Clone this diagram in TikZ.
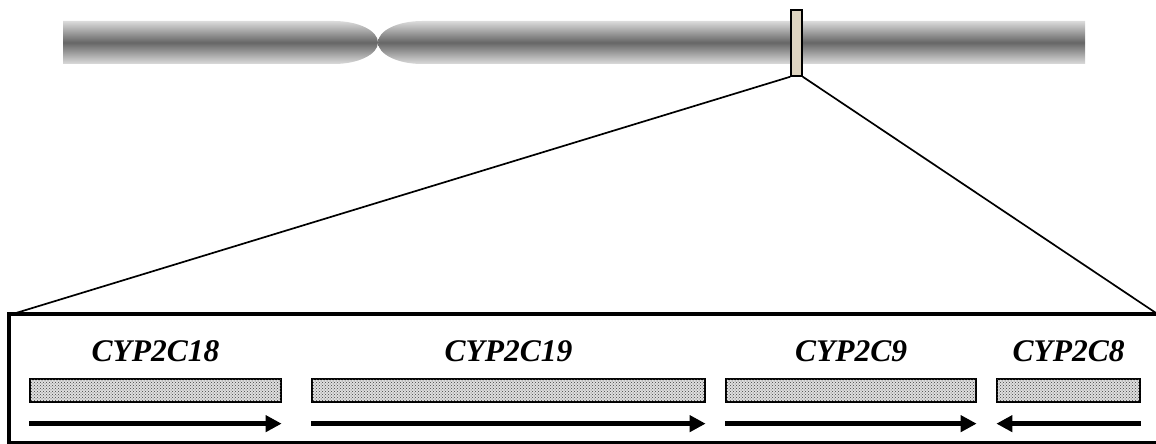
\documentclass[tikz,border=0pt]{standalone}
\usepackage{fontspec}
\setmainfont{Liberation Serif}
\usepackage{tikz}
\usetikzlibrary{%
  arrows.meta,% Triangle tips
  patterns,% stippled gene bars
  positioning% wg. " of "
}

\definecolor{armedge}{gray}{0.86}
\definecolor{armmid}{gray}{0.40}
\definecolor{bandfill}{RGB}{222,212,192}

\tikzset{
  arm/.style={top color=armedge, bottom color=armedge, middle color=armmid},
  band/.style={draw, line width=1.5pt, fill=bandfill, rectangle, inner sep=0pt,
    minimum width=11pt, minimum height=66pt},
  gene/.style={draw, line width=1.3pt, fill=gray!25, rectangle, inner sep=0pt,
    minimum height=23pt,
    postaction={pattern=crosshatch dots, pattern color=gray!50!black}},
  genename/.style={inner sep=0pt, font=\fontsize{31.5}{31.5}\selectfont\bfseries\itshape},
  strand/.style={line width=5.5pt, -{Triangle[length=16pt,width=16pt]}}
}

\begin{document}
\begin{tikzpicture}[x=1pt, y=1pt]
    \clip (0,0) rectangle (1156,444);
    \useasboundingbox (0,0) rectangle (1156,444);

    %chromosome, two arms meeting at the centromere
    \path[arm] (63,380) -- (334,380)
      arc[start angle=-90, end angle=90, x radius=44, y radius=21.5]
      -- (63,423) -- cycle;
    \path[arm] (1085,380) -- (422,380)
      arc[start angle=270, end angle=90, x radius=44, y radius=21.5]
      -- (1085,423) -- cycle;

    %locus
    \node[band] (locus) at (796.5,401) {};

    %enlarged region
    \draw[line width=4pt] (9,0.5) rectangle (1160,129.5);
    \coordinate (zl) at (16,131);
    \coordinate (zr) at (1156,131);
    \draw[line width=1.7pt] (locus.south west) -- (zl);
    \draw[line width=1.7pt] (locus.south east) -- (zr);

    %genes
    \node[gene, minimum width=251pt] (g18) at (155.5,53.5) {};
    \node[gene, minimum width=393pt] (g19) at (508.5,53.5) {};
    \node[gene, minimum width=250pt] (g9) at (851,53.5) {};
    \node[gene, minimum width=143pt] (g8) at (1068.5,53.5) {};

    \node[genename] (n18) [above=16pt of g18] {CYP2C18};
    \node[genename] (n19) [above=16pt of g19] {CYP2C19};
    \node[genename] (n9) [above=16pt of g9] {CYP2C9};
    \node[genename] (n8) [above=16pt of g8] {CYP2C8};

    %direction of transcription
    \draw[strand] ([yshift=-21pt]g18.south west) -- ([yshift=-21pt]g18.south east);
    \draw[strand] ([yshift=-21pt]g19.south west) -- ([yshift=-21pt]g19.south east);
    \draw[strand] ([yshift=-21pt]g9.south west) -- ([yshift=-21pt]g9.south east);
    \draw[strand] ([yshift=-21pt]g8.south east) -- ([yshift=-21pt]g8.south west);

  \end{tikzpicture}
\end{document}
